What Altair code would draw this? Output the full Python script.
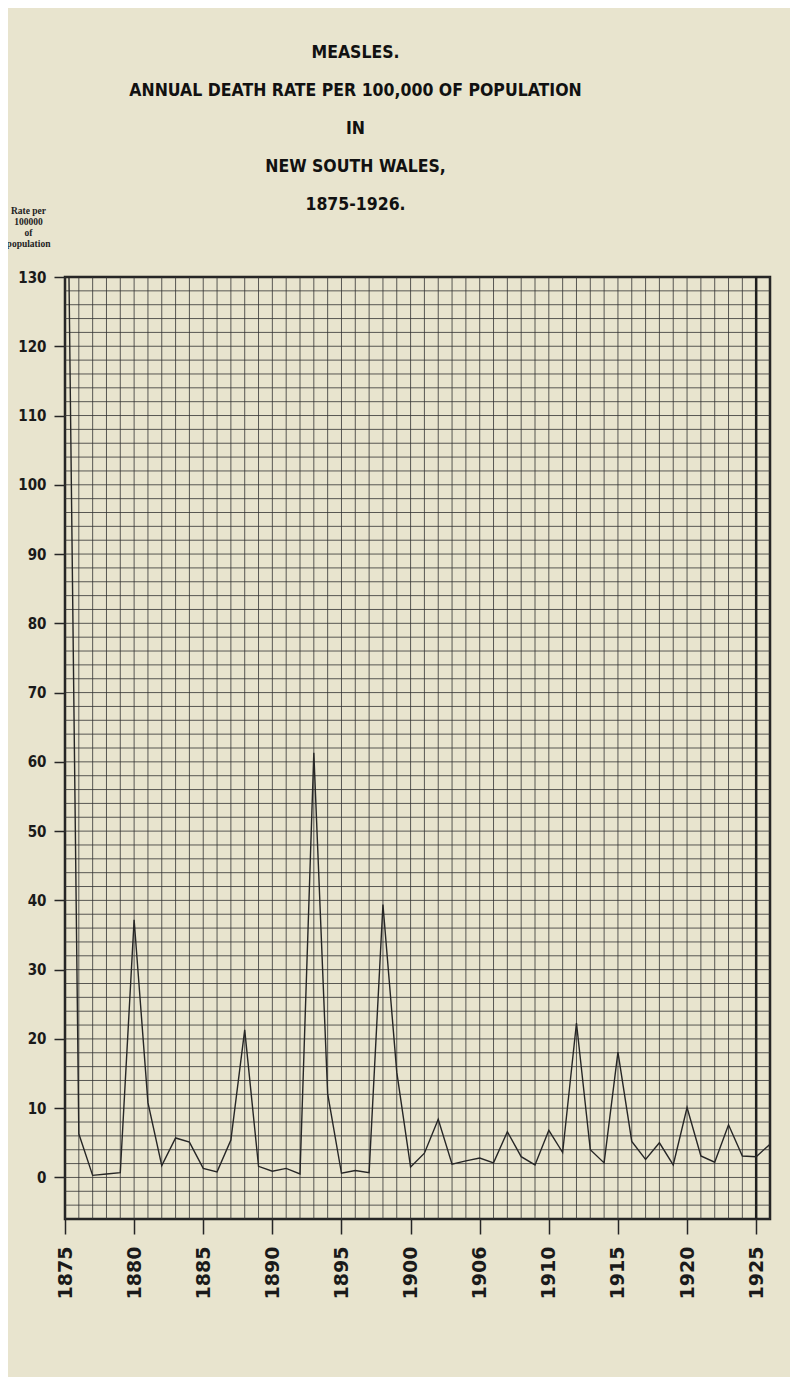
import altair as alt
import pandas as pd

# ---- data ----
years = list(range(1875, 1927))
rates = [180.0, 6.3, 0.3, 0.5, 0.7, 37.2, 10.8, 1.7, 5.7, 5.1,
         1.3, 0.8, 5.4, 21.3, 1.6, 0.9, 1.3, 0.5, 61.3, 12.1,
         0.6, 1.0, 0.7, 39.4, 15.2, 1.5, 3.5, 8.4, 1.9, 2.4,
         2.8, 2.1, 6.6, 3.0, 1.8, 6.8, 3.6, 22.3, 4.0, 2.1,
         18.1, 5.2, 2.6, 5.0, 1.8, 10.1, 3.1, 2.2, 7.6, 3.1,
         3.0, 4.8]
x_tick_years = list(range(1875, 1926, 5))
y_tick_values = list(range(0, 131, 10))
x_grid_years = list(range(1875, 1927))
y_grid_values = list(range(-6, 131, 2))
heavy_years = [1925]

title_lines = ["MEASLES.", "ANNUAL DEATH RATE PER 100,000 OF POPULATION",
               "IN", "NEW SOUTH WALES,", "1875-1926."]
y_title_lines = ["Rate per", "100000", "of", "population"]

X_DOMAIN = [1875, 1926]
Y_DOMAIN = [-6, 130]
INK = "#262626"
COND = "Liberation Sans Narrow, DejaVu Sans Condensed, Liberation Sans, sans-serif"

df = pd.DataFrame({"year": years, "rate": rates})
xg = pd.DataFrame({"year": x_grid_years})
yg = pd.DataFrame({"rate": y_grid_values})
hv = pd.DataFrame({"year": heavy_years})

xscale = alt.Scale(domain=X_DOMAIN, nice=False, zero=False)
yscale = alt.Scale(domain=Y_DOMAIN, nice=False, zero=False)

xaxis = alt.Axis(values=x_tick_years, format="d", title=None,
                 labelExpr="datum.value == 1905 ? '1906' : datum.label",
                 labelAngle=-90, labelFont="DejaVu Sans", labelFontWeight="bold",
                 labelFontSize=19, labelColor="#1a1a1a", labelPadding=12,
                 tickSize=15, tickWidth=1.5, tickColor=INK,
                 domain=False, grid=False)
yaxis = alt.Axis(values=y_tick_values, format="d",
                 title=y_title_lines, titleAngle=0, titleX=-37, titleY=-72,
                 titleAlign="center", titleBaseline="top",
                 titleFont="Liberation Serif", titleFontWeight="bold",
                 titleFontSize=9.5, titleLineHeight=11, titleColor="#222222",
                 labelFont=COND, labelFontWeight="bold", labelFontSize=15,
                 labelColor="#1a1a1a", labelPadding=8,
                 tickSize=11, tickWidth=1.5, tickColor=INK,
                 domain=False, grid=False)

vgrid = alt.Chart(xg).mark_rule(color="#333333", strokeWidth=1, opacity=0.8).encode(
    x=alt.X("year:Q", scale=xscale, axis=xaxis)
)
hgrid = alt.Chart(yg).mark_rule(color="#333333", strokeWidth=1, opacity=0.8).encode(
    y=alt.Y("rate:Q", scale=yscale, axis=yaxis)
)
heavy = alt.Chart(hv).mark_rule(color="#1e1e1e", strokeWidth=2.5).encode(
    x=alt.X("year:Q", scale=xscale, axis=xaxis)
)

line = alt.Chart(df).mark_line(color=INK, strokeWidth=1.4, clip=True).encode(
    x=alt.X("year:Q", scale=xscale, axis=xaxis),
    y=alt.Y("rate:Q", scale=yscale, axis=yaxis),
)

chart = alt.layer(vgrid, hgrid, heavy, line).properties(
    width=705,
    height=942,
    autosize=alt.AutoSizeParams(type="none"),
    padding={"left": 57, "top": 269, "right": 20, "bottom": 158},
    background="#e8e4ce",
    title=alt.TitleParams(text=title_lines, anchor="middle", dx=-62, offset=0, dy=8,
                          font=COND, fontWeight="bold", fontSize=17.5, lineHeight=38,
                          color="#111111"),
).configure_view(stroke="#1e1e1e", strokeWidth=2.5)

chart.save("out.html", embed_options={"renderer": "svg", "actions": False})
